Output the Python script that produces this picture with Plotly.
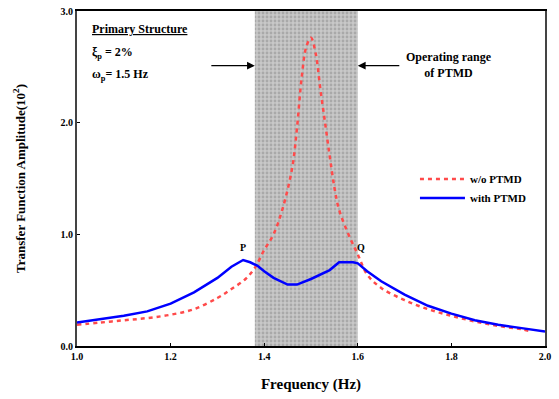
import plotly.graph_objects as go

# ---- data ----
freq_wo = [1.00, 1.05, 1.10, 1.15, 1.20, 1.25, 1.30, 1.33, 1.36, 1.38, 1.40, 1.42, 1.44, 1.46,
           1.47, 1.48, 1.49, 1.50, 1.51, 1.52, 1.53, 1.54, 1.55, 1.56, 1.58, 1.60, 1.62,
           1.65, 1.70, 1.75, 1.80, 1.85, 1.90, 1.95, 1.97]
amp_wo = [0.19, 0.21, 0.23, 0.25, 0.28, 0.33, 0.43, 0.51, 0.60, 0.70, 0.86, 1.00, 1.24, 1.60,
          1.95, 2.40, 2.68, 2.76, 2.62, 2.30, 2.00, 1.70, 1.42, 1.22, 1.00, 0.82, 0.64,
          0.52, 0.41, 0.33, 0.27, 0.22, 0.18, 0.15, 0.13]

freq_with = [1.00, 1.05, 1.10, 1.15, 1.20, 1.25, 1.30, 1.33, 1.355, 1.37, 1.385, 1.40, 1.42,
             1.45, 1.47, 1.50, 1.52, 1.54, 1.56, 1.59, 1.60, 1.62, 1.65, 1.70, 1.75, 1.80,
             1.85, 1.90, 1.95, 2.00]
amp_with = [0.21, 0.24, 0.27, 0.31, 0.38, 0.48, 0.61, 0.71, 0.77, 0.75, 0.72, 0.67, 0.61,
            0.55, 0.55, 0.60, 0.64, 0.68, 0.75, 0.75, 0.74, 0.67, 0.58, 0.46, 0.36, 0.29,
            0.23, 0.19, 0.16, 0.13]

op_range = [1.38, 1.60]
x_ticks = [1.0, 1.2, 1.4, 1.6, 1.8, 2.0]
x_tick_labels = ["1.0", "1.2", "1.4", "1.6", "1.8", "2.0"]
y_ticks = [0.0, 1.0, 2.0, 3.0]
y_tick_labels = ["0.0", "1.0", "2.0", "3.0"]

serif = "Liberation Serif, Times New Roman, serif"

fig = go.Figure()

# shaded operating range with dot pattern
fig.add_trace(go.Scatter(
    x=[op_range[0], op_range[1], op_range[1], op_range[0], op_range[0]],
    y=[0, 0, 3, 3, 0],
    fill="toself", mode="lines", line=dict(width=0, color="rgba(0,0,0,0)"),
    fillcolor="#bdbdbd",
    fillpattern=dict(shape=".", bgcolor="#c8c8c8", fgcolor="#8a8a8a", size=4, solidity=0.4),
    showlegend=False, hoverinfo="skip"))

fig.add_trace(go.Scatter(x=freq_wo, y=amp_wo, mode="lines", name="<b>w/o PTMD</b>",
                         line=dict(color="#ff4a4a", width=2.5, dash="4px,4px"),
                         line_shape="spline"))
fig.add_trace(go.Scatter(x=freq_with, y=amp_with, mode="lines", name="<b>with PTMD</b>",
                         line=dict(color="#0000ff", width=2.5)))

fig.update_layout(
    width=559, height=399,
    margin=dict(l=77, r=14, t=11, b=53),
    plot_bgcolor="white", paper_bgcolor="white",
    font=dict(family=serif, color="black"),
    legend=dict(x=0.97, y=0.47, xanchor="right", yanchor="middle",
                bgcolor="rgba(0,0,0,0)", font=dict(size=11, family=serif),
                traceorder="normal", itemwidth=45, tracegroupgap=0),
    xaxis=dict(range=[1.0, 2.0], tickvals=x_ticks, ticktext=x_tick_labels,
               ticks="inside", ticklen=3, tickcolor="black", automargin=False,
               showline=True, linecolor="black", linewidth=2, mirror=True,
               showgrid=False, zeroline=False,
               tickfont=dict(size=10, family=serif, weight="bold"),
               title=dict(text="Frequency (Hz)", font=dict(size=15, family=serif, weight="bold"),
                          standoff=17)),
    yaxis=dict(range=[0.0, 3.0], tickvals=y_ticks, ticktext=y_tick_labels,
               ticks="inside", ticklen=3, tickcolor="black", automargin=False,
               showline=True, linecolor="#444", linewidth=2, mirror=True,
               showgrid=False, zeroline=False,
               tickfont=dict(size=10, family=serif, weight="bold"),
               title=dict(text="Transfer Function Amplitude(10<sup>2</sup>)",
                          font=dict(size=13, family=serif, weight="bold"), standoff=32)),
)

# text annotations
fig.add_annotation(x=0.028, y=0.945, xref="paper", yref="paper", xanchor="left", yanchor="middle",
                   text="<b><u>Primary Structure</u></b>", showarrow=False, font=dict(size=12))
fig.add_annotation(x=0.028, y=0.875, xref="paper", yref="paper", xanchor="left", yanchor="middle",
                   text="<b>ξ<sub>p</sub> = 2%</b>", showarrow=False, font=dict(size=12))
fig.add_annotation(x=0.028, y=0.81, xref="paper", yref="paper", xanchor="left", yanchor="middle",
                   text="<b>ω<sub>p</sub>= 1.5 Hz</b>", showarrow=False, font=dict(size=12))
fig.add_annotation(x=0.795, y=0.84, xref="paper", yref="paper", xanchor="center", yanchor="middle",
                   text="<b>Operating range<br>of PTMD</b>", showarrow=False, font=dict(size=12),
                   align="center")
# arrows
fig.add_annotation(x=op_range[0], y=2.51, ax=-45, ay=0, xref="x", yref="y",
                   text="", showarrow=True, arrowhead=2, arrowsize=1.2, arrowwidth=1.3,
                   arrowcolor="black", standoff=0)
fig.add_annotation(x=op_range[1], y=2.51, ax=43, ay=0, xref="x", yref="y",
                   text="", showarrow=True, arrowhead=2, arrowsize=1.2, arrowwidth=1.3,
                   arrowcolor="black", standoff=0)
# P and Q labels
fig.add_annotation(x=1.355, y=0.88, text="<b>P</b>", showarrow=False, font=dict(size=10))
fig.add_annotation(x=1.607, y=0.88, text="<b>Q</b>", showarrow=False, font=dict(size=10))

fig.write_html("out.html", config={"displayModeBar": False})

# remove the browser's default page margin so the figure sits at the window origin
with open("out.html", "r", encoding="utf-8") as fh:
    html = fh.read()
html = html.replace("<body>", '<body style="margin:0;padding:0;overflow:hidden">', 1)
with open("out.html", "w", encoding="utf-8") as fh:
    fh.write(html)
